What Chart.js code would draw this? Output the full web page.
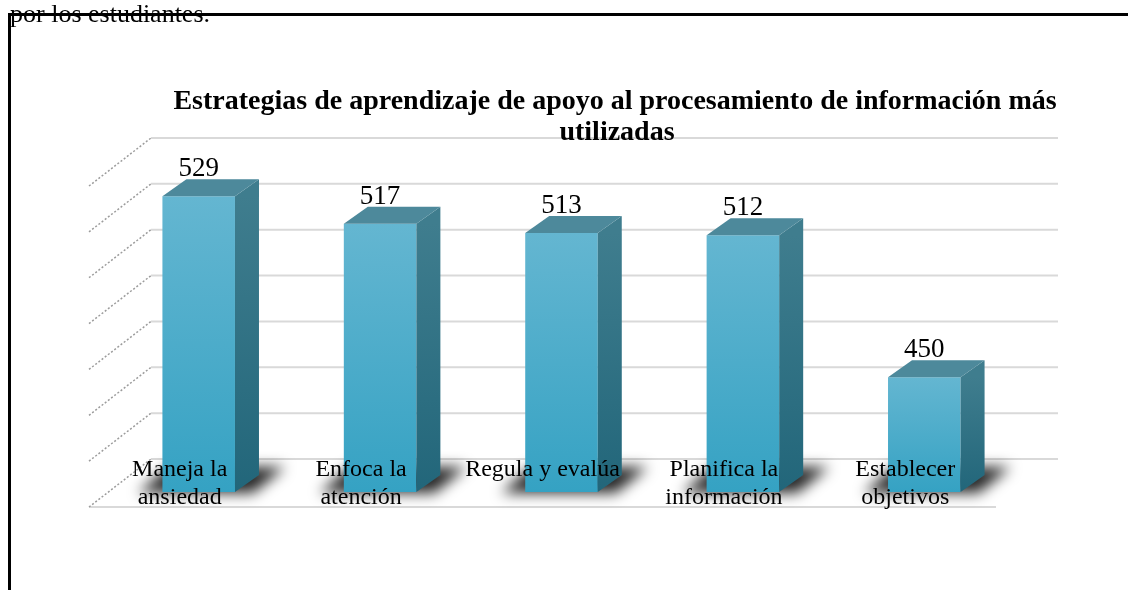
<!DOCTYPE html>
<html>
<head>
<meta charset="utf-8">
<script src="https://cdn.jsdelivr.net/npm/chart.js@4.4.1/dist/chart.umd.min.js"></script>
<style>
  html, body { margin: 0; padding: 0; background: #fff; overflow: hidden; }
  #wrap { position: relative; width: 1128px; height: 590px; overflow: hidden; }
  #frame { position: absolute; left: 8px; top: 13px; width: 1140px; height: 600px;
           border-top: 3px solid #000; border-left: 3px solid #000; }
  #chart { position: absolute; left: 0; top: 0; }
  #caption { position: absolute; left: 10px; top: -1px; font: 26px 'Liberation Serif', 'Times New Roman', serif;
             line-height: 30px; color: #000; white-space: nowrap; }
</style>
</head>
<body>
<div id="wrap">
  <div id="frame"></div>
  <canvas id="chart" width="1128" height="590"></canvas>
  <div id="caption">por los estudiantes.</div>
</div>
<script>
  // values
  const categories = [
    ['Maneja la', 'ansiedad'],
    ['Enfoca la', 'atención'],
    ['Regula y evalúa'],
    ['Planifica la', 'información'],
    ['Establecer', 'objetivos']
  ];
  const counts = [529, 517, 513, 512, 450];
  const gridValues = [400, 420, 440, 460, 480, 500, 520, 540];
  const titleLines = ['Estrategias de aprendizaje de apoyo al procesamiento de información más', 'utilizadas'];

  const serif = "'Liberation Serif', 'Times New Roman', serif";
  // oblique offsets for the fake 3D look
  const back = { x: 43, y: -33 };
  const floorFront = { x: -19, y: 15 };
  const barDepth = { x: 24, y: -17 };

  function line(ctx, x1, y1, x2, y2) {
    ctx.beginPath();
    ctx.moveTo(x1, y1);
    ctx.lineTo(x2, y2);
    ctx.stroke();
  }

  function poly(ctx, pts) {
    ctx.beginPath();
    ctx.moveTo(pts[0][0], pts[0][1]);
    pts.slice(1).forEach((p) => ctx.lineTo(p[0], p[1]));
    ctx.closePath();
    ctx.fill();
  }

  const box3d = {
    id: 'box3d',
    beforeDatasetsDraw(chart) {
      const { ctx, chartArea: a, scales: { y } } = chart;
      const floorY = y.getPixelForValue(gridValues[0]);
      ctx.save();

      // back wall
      ctx.strokeStyle = '#d9d9d9';
      ctx.lineWidth = 2;
      gridValues.forEach((v) => {
        const py = y.getPixelForValue(v);
        line(ctx, a.left + back.x, py + back.y, a.right + back.x, py + back.y);
      });

      // floor front edge
      line(ctx, a.left + floorFront.x, floorY + floorFront.y, a.right + floorFront.x, floorY + floorFront.y);

      // side wall
      ctx.strokeStyle = '#9c9c9c';
      ctx.lineWidth = 1.5;
      ctx.setLineDash([2, 2]);
      gridValues.forEach((v) => {
        const py = y.getPixelForValue(v);
        line(ctx, a.left + floorFront.x, py + floorFront.y, a.left + back.x, py + back.y);
      });
      ctx.setLineDash([]);

      // floor shadows
      ctx.filter = 'blur(7px)';
      ctx.fillStyle = 'rgba(0,0,0,0.85)';
      chart.getDatasetMeta(0).data.forEach((bar) => {
        const x0 = bar.x - bar.width / 2;
        const x1 = bar.x + bar.width / 2;
        poly(ctx, [[x0 - 24, floorY + 1], [x1 + 18, floorY + 1], [x1 + 50, floorY - 25], [x0 + 6, floorY - 25]]);
      });
      ctx.restore();
    },
    afterDatasetsDraw(chart) {
      const { ctx, scales: { y } } = chart;
      const yb = y.getPixelForValue(gridValues[0]);
      ctx.save();
      chart.getDatasetMeta(0).data.forEach((bar, i) => {
        const x0 = bar.x - bar.width / 2;
        const x1 = bar.x + bar.width / 2;
        const yt = bar.y;

        const side = ctx.createLinearGradient(0, yt, 0, yb);
        side.addColorStop(0, '#3f7d8e');
        side.addColorStop(1, '#22667a');
        ctx.fillStyle = side;
        poly(ctx, [[x1, yt], [x1 + barDepth.x, yt + barDepth.y], [x1 + barDepth.x, yb + barDepth.y], [x1, yb]]);

        ctx.fillStyle = '#4d899b';
        poly(ctx, [[x0, yt], [x1, yt], [x1 + barDepth.x, yt + barDepth.y], [x0 + barDepth.x, yt + barDepth.y]]);

        ctx.fillStyle = '#000';
        ctx.textAlign = 'center';
        ctx.textBaseline = 'alphabetic';
        ctx.font = '27px ' + serif;
        ctx.fillText(String(counts[i]), bar.x, yt + barDepth.y - 3);

        ctx.font = '24px ' + serif;
        categories[i].forEach((txt, k) => {
          ctx.fillText(txt, bar.x + floorFront.x, yb - 16 + k * 27.5);
        });
      });

      ctx.font = 'bold 28px ' + serif;
      ctx.fillStyle = '#000';
      ctx.textAlign = 'center';
      ctx.fillText(titleLines[0], 615, 109);
      ctx.fillText(titleLines[1], 617, 140);
      ctx.restore();
    }
  };

  new Chart(document.getElementById('chart'), {
    type: 'bar',
    data: {
      labels: categories,
      datasets: [{
        data: counts,
        borderWidth: 0,
        backgroundColor(c) {
          const chart = c.chart;
          const a = chart.chartArea;
          if (!a) return '#4eb0cd';
          const top = chart.scales.y.getPixelForValue(c.raw);
          const g = chart.ctx.createLinearGradient(0, top, 0, a.bottom);
          g.addColorStop(0, '#64b6d1');
          g.addColorStop(1, '#35a2c3');
          return g;
        },
        barPercentage: 0.4,
        categoryPercentage: 1
      }]
    },
    options: {
      responsive: false,
      animation: false,
      layout: { padding: { left: 108, right: 113, top: 171, bottom: 98 } },
      plugins: { legend: { display: false }, tooltip: { enabled: false }, title: { display: false } },
      scales: {
        x: { display: false },
        y: { display: false, min: 400, max: 540 }
      }
    },
    plugins: [box3d]
  });
</script>
</body>
</html>
